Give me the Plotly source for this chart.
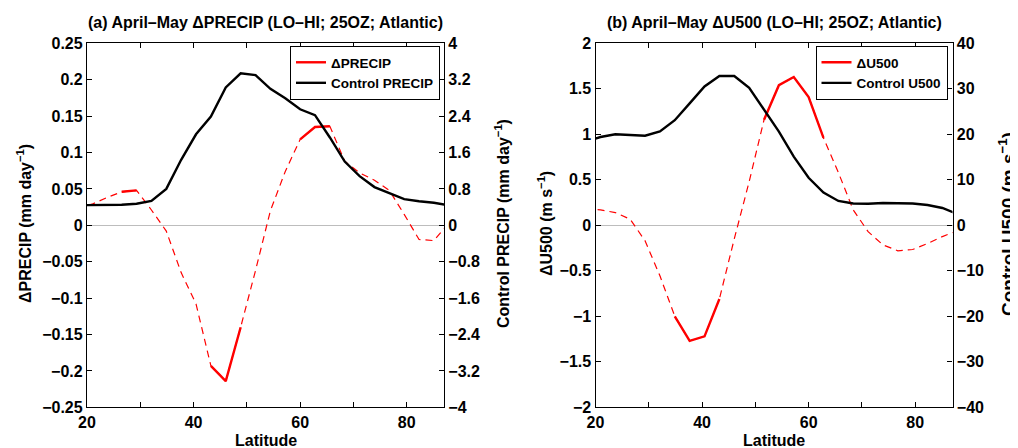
import plotly.graph_objects as go

# ---------------- data ----------------
lat = [18.14, 20.93, 23.72, 26.51, 29.30, 32.09, 34.88, 37.67, 40.46, 43.25,
       46.04, 48.84, 51.63, 54.42, 57.21, 60.00, 62.79, 65.58, 68.37, 71.16,
       73.95, 76.74, 79.53, 82.32, 85.10, 87.86]

d_precip = [0.022, 0.029, 0.038, 0.046, 0.048, 0.021, -0.008, -0.065, -0.108, -0.193,
            -0.214, -0.140, -0.062, 0.020, 0.074, 0.118, 0.135, 0.136, 0.088, 0.072,
            0.062, 0.048, 0.015, -0.0195, -0.021, 0.003]
ctrl_precip = [0.44, 0.444, 0.444, 0.451, 0.473, 0.538, 0.80, 1.44, 2.00, 2.39,
               3.03, 3.34, 3.30, 3.00, 2.79, 2.55, 2.42, 1.93, 1.40, 1.08,
               0.84, 0.705, 0.575, 0.53, 0.495, 0.44]
sig_precip = [False, False, False, True, True, False, False, False, False, True,
              True, True, False, False, False, True, True, True, False, False,
              False, False, False, False, False, False]

d_u500 = [0.18, 0.17, 0.14, 0.066, -0.17, -0.555, -1.00, -1.27, -1.22, -0.81,
          -0.15, 0.48, 1.16, 1.54, 1.63, 1.41, 0.96, 0.58, 0.17, -0.07,
          -0.215, -0.28, -0.266, -0.20, -0.124, -0.06]
ctrl_u500 = [18.4, 19.4, 20.0, 19.85, 19.7, 20.65, 23.1, 26.8, 30.5, 32.8,
             32.8, 30.2, 25.4, 20.6, 15.1, 10.45, 7.2, 5.35, 4.8, 4.75,
             4.9, 4.9, 4.8, 4.45, 3.8, 2.5]
sig_u500 = [False, False, False, False, False, False, True, True, True, True,
            False, False, True, True, True, True, True, False, False, False,
            False, False, False, False, False, False]

x_ticks = [20, 30, 40, 50, 60, 70, 80]
x_ticktext = ["20", "", "40", "", "60", "", "80"]

ya_ticks = [-0.25, -0.2, -0.15, -0.1, -0.05, 0, 0.05, 0.1, 0.15, 0.2, 0.25]
ya_text = ["\u22120.25", "\u22120.2", "\u22120.15", "\u22120.1", "\u22120.05", "0",
           "0.05", "0.1", "0.15", "0.2", "0.25"]
ya2_ticks = [-4, -3.2, -2.4, -1.6, -0.8, 0, 0.8, 1.6, 2.4, 3.2, 4]
ya2_text = ["\u22124", "\u22123.2", "\u22122.4", "\u22121.6", "\u22120.8", "0",
            "0.8", "1.6", "2.4", "3.2", "4"]
yb_ticks = [-2, -1.5, -1, -0.5, 0, 0.5, 1, 1.5, 2]
yb_text = ["\u22122", "\u22121.5", "\u22121", "\u22120.5", "0", "0.5", "1", "1.5", "2"]
yb2_ticks = [-40, -30, -20, -10, 0, 10, 20, 30, 40]
yb2_text = ["\u221240", "\u221230", "\u221220", "\u221210", "0", "10", "20", "30", "40"]

# ---------------- styling ----------------
W, H = 1018, 448
OFF = 8  # page body margin offset of the plot div
FONT = "Liberation Sans"
RED = "#ff0000"
tickfont = dict(family=FONT, size=16, color="black", weight="bold")

def px_x(p):
    return (p - OFF) / W

def px_y(p):
    return (H - (p - OFF)) / H

ydom = [px_y(407.3), px_y(43.3)]
xdom_a = [px_x(87), px_x(444)]
xdom_b = [px_x(595.5), px_x(952.5)]

fig = go.Figure()

def add_panel(xa, ya, ya2, dvals, cvals, sig, dname, cname, legend):
    solid = [v if s else None for v, s in zip(dvals, sig)]
    fig.add_trace(go.Scatter(x=lat, y=dvals, mode="lines", xaxis=xa, yaxis=ya,
                             line=dict(color=RED, width=1.2, dash="7px,5px"),
                             showlegend=False, hoverinfo="skip"))
    fig.add_trace(go.Scatter(x=lat, y=solid, mode="lines", xaxis=xa, yaxis=ya,
                             line=dict(color=RED, width=2.4), connectgaps=False,
                             name=dname, legend=legend))
    fig.add_trace(go.Scatter(x=lat, y=cvals, mode="lines", xaxis=xa, yaxis=ya2,
                             line=dict(color="black", width=2.4),
                             name=cname, legend=legend))

add_panel("x", "y", "y2", d_precip, ctrl_precip, sig_precip,
          "\u0394PRECIP", "Control PRECIP", "legend")
add_panel("x2", "y3", "y4", d_u500, ctrl_u500, sig_u500,
          "\u0394U500", "Control U500", "legend2")

xcommon = dict(range=[20, 87], tickvals=x_ticks, ticktext=x_ticktext,
               ticks="inside", ticklen=5, tickwidth=1.3, tickcolor="black",
               showline=True, linecolor="black", linewidth=1.3, mirror="ticks",
               showgrid=False, zeroline=False, tickfont=tickfont, automargin=False)
yleft = dict(ticks="inside", ticklen=5, tickwidth=1.3, tickcolor="black",
             showline=True, linecolor="black", linewidth=1.3, mirror=False,
             showgrid=False, zeroline=True, zerolinecolor="#bdbdbd",
             zerolinewidth=1.2, tickfont=tickfont, domain=ydom, side="left",
             automargin=False)
yright = dict(ticks="inside", ticklen=5, tickwidth=1.3, tickcolor="black",
              showline=True, linecolor="black", linewidth=1.3,
              showgrid=False, zeroline=False, tickfont=tickfont, side="right",
              automargin=False)

legfont = dict(family=FONT, size=13.5, color="black", weight="bold")

fig.update_layout(
    width=W, height=H,
    margin=dict(l=0, r=0, t=0, b=0, autoexpand=False),
    paper_bgcolor="white", plot_bgcolor="white",
    showlegend=True,
    xaxis=dict(domain=xdom_a, anchor="y", **xcommon),
    xaxis2=dict(domain=xdom_b, anchor="y3", **xcommon),
    yaxis=dict(anchor="x", range=[-0.25, 0.25], tickvals=ya_ticks, ticktext=ya_text, **yleft),
    yaxis2=dict(anchor="x", overlaying="y", range=[-4, 4], tickvals=ya2_ticks,
                ticktext=ya2_text, **yright),
    yaxis3=dict(anchor="x2", range=[-2, 2], tickvals=yb_ticks, ticktext=yb_text, **yleft),
    yaxis4=dict(anchor="x2", overlaying="y3", range=[-40, 40], tickvals=yb2_ticks,
                ticktext=yb2_text, **yright),
    legend=dict(x=px_x(440), xanchor="right", y=px_y(46), yanchor="top",
                bgcolor="white", bordercolor="black", borderwidth=1,
                font=legfont, tracegroupgap=0, itemwidth=30),
    legend2=dict(x=px_x(947.5), xanchor="right", y=px_y(46), yanchor="top",
                 bgcolor="white", bordercolor="black", borderwidth=1,
                 font=legfont, tracegroupgap=0, itemwidth=30),
)

def ann(text, x, y, size=16, angle=0):
    fig.add_annotation(text="<b>" + text + "</b>", x=x, y=y, xref="paper", yref="paper",
                       xanchor="center", yanchor="middle", showarrow=False,
                       textangle=angle, font=dict(family=FONT, size=size, color="black"))

ann("(a) April\u2013May \u0394PRECIP (LO\u2013HI; 25OZ; Atlantic)", px_x(265.5), px_y(22.5), 16)
ann("(b) April\u2013May \u0394U500 (LO\u2013HI; 25OZ; Atlantic)", px_x(774), px_y(22.5), 16)
ann("Latitude", px_x(265.5), px_y(440), 16)
ann("Latitude", px_x(774), px_y(440), 16)
ann("\u0394PRECIP (mm day<sup>\u22121</sup>)", px_x(24), px_y(224), 16, -90)
ann("Control PRECIP (mm day<sup>\u22121</sup>)", px_x(502), px_y(224), 16, -90)
ann("\u0394U500 (m s<sup>\u22121</sup>)", px_x(545), px_y(224), 16, -90)
ann("Control U500 (m s<sup>\u22121</sup>)", px_x(1007), px_y(224), 19, -90)

fig.write_html("out.html")
